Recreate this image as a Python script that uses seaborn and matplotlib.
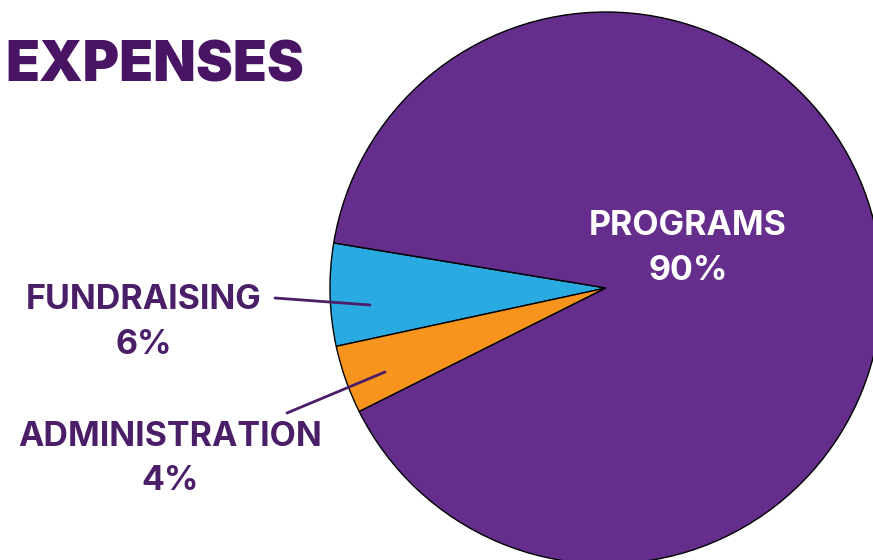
import matplotlib
matplotlib.use('Agg')
import matplotlib.pyplot as plt
import seaborn as sns

# ----- DATA -----
categories = ['FUNDRAISING', 'ADMINISTRATION', 'PROGRAMS']
shares = [6, 4, 90]
slice_colors = ['#29ABE2', '#F7941E', '#652D8C']

title_color = '#4A1464'
label_color = '#4B1E68'

sns.set_theme(style='white')
plt.rcParams['font.family'] = ['Inter', 'DejaVu Sans']

W, H = 873, 560
fig = plt.figure(figsize=(W / 100, H / 100), dpi=100)
ax = fig.add_axes([0, 0, 1, 1])

# pie in pixel-like coordinates (y flipped so angles go the usual way)
cx, cy, r = 606, H - 288, 276
wedges, _ = ax.pie(shares, colors=slice_colors, startangle=170.6, counterclock=True,
                   center=(cx, cy), radius=r,
                   wedgeprops=dict(edgecolor='black', linewidth=1.0))

ax.set_xlim(0, W)
ax.set_ylim(0, H)
ax.set_aspect('equal')
ax.axis('off')

def py(y):
    return H - y

fs = 24.5

ax.text(5, py(66), 'EXPENSES', fontsize=40, fontweight='black', color=title_color,
        ha='left', va='center')

# programs label inside slice
ax.text(688, py(226), categories[2], fontsize=fs, fontweight='bold', color='white',
        ha='center', va='center')
ax.text(688, py(271), f'{shares[2]}%', fontsize=fs, fontweight='bold', color='white',
        ha='center', va='center')

# outside labels with leader lines
ax.text(144, py(300), categories[0], fontsize=fs, fontweight='bold', color=label_color,
        ha='center', va='center')
ax.text(144, py(345), f'{shares[0]}%', fontsize=fs, fontweight='bold', color=label_color,
        ha='center', va='center')
ax.plot([275, 370], [py(298), py(305)], color=label_color, lw=2)

ax.text(170, py(437), categories[1], fontsize=fs, fontweight='bold', color=label_color,
        ha='center', va='center')
ax.text(170, py(481), f'{shares[1]}%', fontsize=fs, fontweight='bold', color=label_color,
        ha='center', va='center')
ax.plot([287, 385], [py(413), py(372)], color=label_color, lw=2)

fig.savefig('out.png', dpi=100, facecolor='white')
